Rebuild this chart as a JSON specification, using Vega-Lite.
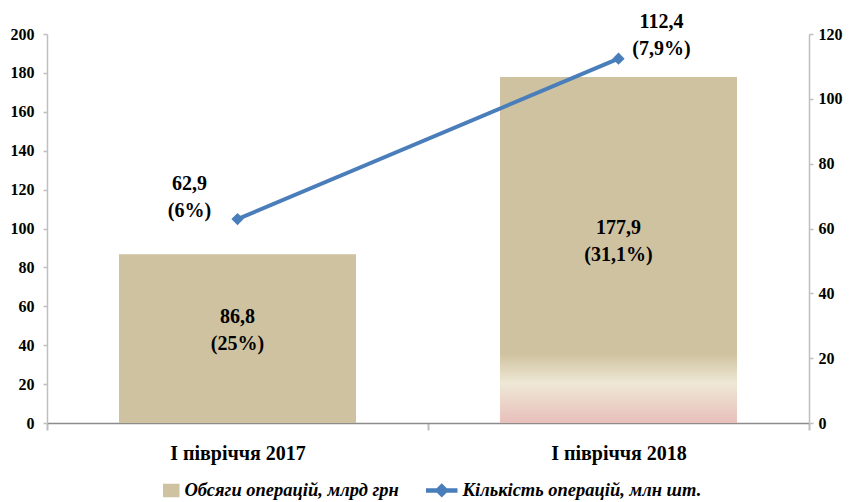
{
  "$schema": "https://vega.github.io/schema/vega-lite/v6.json",
  "width": 762,
  "height": 389,
  "autosize": {"type": "none"},
  "padding": {"left": 47, "top": 34, "right": 42, "bottom": 79},
  "background": "white",
  "config": {
    "view": {"stroke": null},
    "font": "Liberation Serif",
    "text": {"font": "Liberation Serif"}
  },
  "data": {
    "values": [
      {"period": "І півріччя 2017", "volume": 86.8, "count": 62.9, "vlabel": "86,8\n(25%)", "clabel": "62,9\n(6%)"},
      {"period": "І півріччя 2018", "volume": 177.9, "count": 112.4, "vlabel": "177,9\n(31,1%)", "clabel": "112,4\n(7,9%)"}
    ]
  },
  "encoding": {
    "x": {
      "field": "period",
      "type": "nominal",
      "sort": null,
      "scale": {"paddingInner": 0, "paddingOuter": 0},
      "axis": {
        "title": null,
        "labelAngle": 0,
        "labelFont": "Liberation Serif",
        "labelFontSize": 20,
        "labelFontWeight": "bold",
        "labelColor": "#000000",
        "labelPadding": 13,
        "domainColor": "#8C8C8C",
        "domainWidth": 1.5,
        "tickColor": "#BFBFBF",
        "tickWidth": 2,
        "tickSize": 7,
        "tickBand": "extent"
      }
    }
  },
  "layer": [
    {
      "layer": [
        {
          "mark": {"type": "bar", "width": {"band": 0.622}},
          "encoding": {
            "y": {
              "field": "volume",
              "type": "quantitative",
              "scale": {"domain": [0, 200], "nice": false},
              "axis": {
                "title": null,
                "grid": false,
                "values": [0, 20, 40, 60, 80, 100, 120, 140, 160, 180, 200],
                "labelFont": "Liberation Serif",
                "labelFontSize": 16,
                "labelFontWeight": "bold",
                "labelColor": "#000000",
                "labelPadding": 9,
                "domainColor": "#BFBFBF",
                "domainWidth": 1.5,
                "tickColor": "#BFBFBF",
                "tickWidth": 1.5,
                "tickSize": 4
              }
            },
            "color": {
              "datum": "Обсяги операцій, млрд грн",
              "type": "nominal",
              "scale": {
                "domain": ["Обсяги операцій, млрд грн", "Кількість операцій, млн шт."],
                "range": ["#CFC2A0", "#4A7EBB"]
              },
              "legend": {
                "orient": "none",
                "legendX": 115,
                "legendY": 447,
                "direction": "horizontal",
                "title": null,
                "labelFont": "Liberation Serif",
                "labelFontSize": 18.5,
                "labelFontStyle": "italic",
                "labelFontWeight": "bold",
                "labelColor": "#000000",
                "labelLimit": 0,
                "labelOffset": 4,
                "symbolSize": 225,
                "columnPadding": 24,
                "encode": {
                  "symbols": {
                    "update": {
                      "shape": {"signal": "datum.value === 'Обсяги операцій, млрд грн' ? 'M-1,-0.8L1,-0.8L1,0.8L-1,0.8Z' : 'M-3,-0.2L-1.6,-0.2L-1,-0.8L-0.4,-0.2L1,-0.2L1,0.2L-0.4,0.2L-1,0.8L-1.6,0.2L-3,0.2Z'"},
                      "fill": {"scale": "color", "field": "value"},
                      "stroke": {"value": "transparent"},
                      "opacity": {"value": 1}
                    }
                  }
                }
              }
            }
          }
        },
        {
          "transform": [{"filter": "datum.period === 'І півріччя 2018'"}],
          "mark": {
            "type": "bar",
            "width": {"band": 0.622},
            "color": {
              "gradient": "linear",
              "x1": 0, "y1": 0, "x2": 0, "y2": 1,
              "stops": [
                {"offset": 0, "color": "#CFC2A0"},
                {"offset": 0.8, "color": "#CFC2A0"},
                {"offset": 0.885, "color": "#EEE8D5"},
                {"offset": 1, "color": "#E8BFBB"}
              ]
            }
          },
          "encoding": {
            "y": {
              "field": "volume",
              "type": "quantitative",
              "axis": {
                "title": null,
                "grid": false,
                "values": [0, 20, 40, 60, 80, 100, 120, 140, 160, 180, 200],
                "labelFont": "Liberation Serif",
                "labelFontSize": 16,
                "labelFontWeight": "bold",
                "labelColor": "#000000",
                "labelPadding": 9,
                "domainColor": "#BFBFBF",
                "domainWidth": 1.5,
                "tickColor": "#BFBFBF",
                "tickWidth": 1.5,
                "tickSize": 4
              }
            }
          }
        },
        {
          "transform": [{"calculate": "datum.volume / 2", "as": "mid"}],
          "mark": {"type": "text", "fontSize": 20, "fontWeight": "bold", "lineHeight": 27, "lineBreak": "\n", "baseline": "middle", "align": "center", "dy": -22, "color": "#000000"},
          "encoding": {
            "y": {
              "field": "mid",
              "type": "quantitative",
              "axis": {
                "title": null,
                "grid": false,
                "values": [0, 20, 40, 60, 80, 100, 120, 140, 160, 180, 200],
                "labelFont": "Liberation Serif",
                "labelFontSize": 16,
                "labelFontWeight": "bold",
                "labelColor": "#000000",
                "labelPadding": 9,
                "domainColor": "#BFBFBF",
                "domainWidth": 1.5,
                "tickColor": "#BFBFBF",
                "tickWidth": 1.5,
                "tickSize": 4
              }
            },
            "text": {"field": "vlabel"}
          }
        }
      ]
    },
    {
      "layer": [
        {
          "mark": {"type": "line", "strokeWidth": 4, "point": {"shape": "diamond", "size": 150, "filled": true}},
          "encoding": {
            "y": {
              "field": "count",
              "type": "quantitative",
              "scale": {"domain": [0, 120], "nice": false},
              "axis": {
                "orient": "right",
                "title": null,
                "grid": false,
                "values": [0, 20, 40, 60, 80, 100, 120],
                "labelFont": "Liberation Serif",
                "labelFontSize": 16,
                "labelFontWeight": "bold",
                "labelColor": "#000000",
                "labelPadding": 5,
                "domainColor": "#BFBFBF",
                "domainWidth": 1.5,
                "tickColor": "#BFBFBF",
                "tickWidth": 1.5,
                "tickSize": 4
              }
            },
            "color": {
              "datum": "Кількість операцій, млн шт.",
              "type": "nominal"
            }
          }
        },
        {
          "transform": [{"filter": "datum.period === 'І півріччя 2017'"}],
          "mark": {"type": "text", "fontSize": 20, "fontWeight": "bold", "lineHeight": 27, "lineBreak": "\n", "baseline": "middle", "align": "center", "dx": -48, "dy": -35, "color": "#000000"},
          "encoding": {
            "y": {
              "field": "count",
              "type": "quantitative",
              "axis": {
                "orient": "right",
                "title": null,
                "grid": false,
                "values": [0, 20, 40, 60, 80, 100, 120],
                "labelFont": "Liberation Serif",
                "labelFontSize": 16,
                "labelFontWeight": "bold",
                "labelColor": "#000000",
                "labelPadding": 5,
                "domainColor": "#BFBFBF",
                "domainWidth": 1.5,
                "tickColor": "#BFBFBF",
                "tickWidth": 1.5,
                "tickSize": 4
              }
            },
            "text": {"field": "clabel"}
          }
        },
        {
          "transform": [{"filter": "datum.period === 'І півріччя 2018'"}],
          "mark": {"type": "text", "fontSize": 20, "fontWeight": "bold", "lineHeight": 27, "lineBreak": "\n", "baseline": "middle", "align": "center", "dx": 43, "dy": -37, "color": "#000000"},
          "encoding": {
            "y": {
              "field": "count",
              "type": "quantitative",
              "axis": {
                "orient": "right",
                "title": null,
                "grid": false,
                "values": [0, 20, 40, 60, 80, 100, 120],
                "labelFont": "Liberation Serif",
                "labelFontSize": 16,
                "labelFontWeight": "bold",
                "labelColor": "#000000",
                "labelPadding": 5,
                "domainColor": "#BFBFBF",
                "domainWidth": 1.5,
                "tickColor": "#BFBFBF",
                "tickWidth": 1.5,
                "tickSize": 4
              }
            },
            "text": {"field": "clabel"}
          }
        }
      ]
    }
  ],
  "resolve": {"scale": {"y": "independent"}}
}
